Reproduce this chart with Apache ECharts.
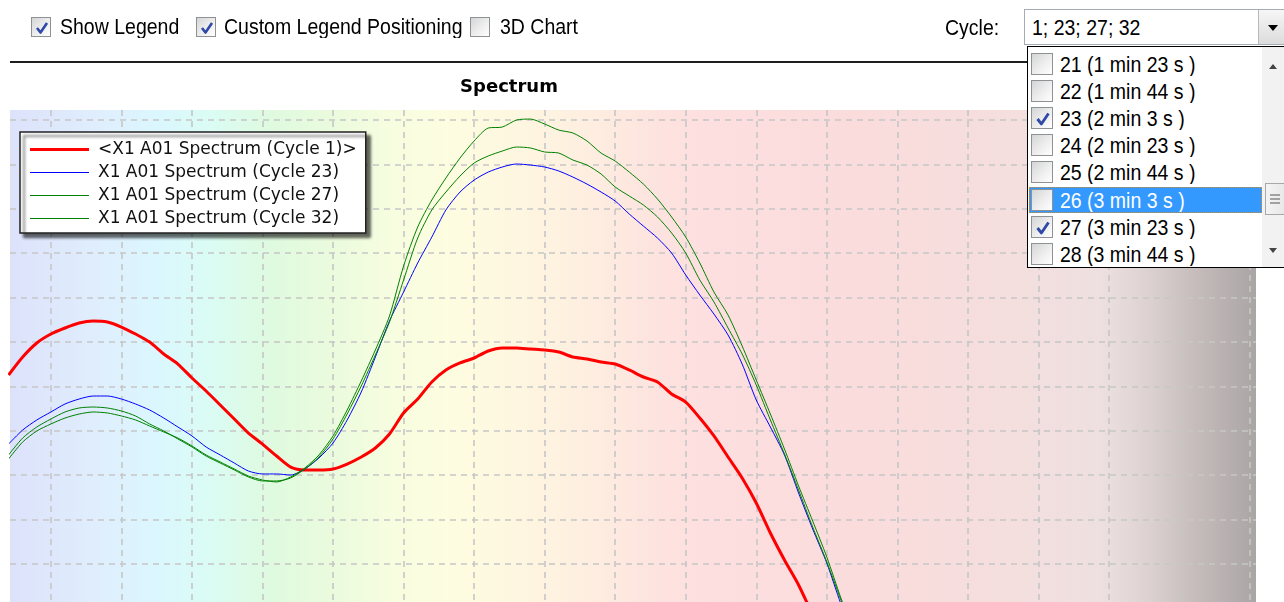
<!DOCTYPE html>
<html>
<head>
<meta charset="utf-8">
<script src="https://cdn.jsdelivr.net/npm/echarts@6/dist/echarts.min.js"></script>
<style>
  html, body { margin: 0; padding: 0; width: 1284px; height: 602px; overflow: hidden; background: #fff; }
  #chart { position: absolute; left: 0; top: 0; width: 1284px; height: 602px; }
  .ui { position: absolute; font-family: "Liberation Sans", Arial, sans-serif; font-size: 19.5px; line-height: 19px; color: #000;
        white-space: nowrap; z-index: 5; transform: scale(1, 1.1); transform-origin: 0 0; }
  .cb { position: absolute; width: 20px; height: 20px; box-sizing: border-box; border: 1px solid #8f9294;
        background: linear-gradient(135deg, #d4d5d6 0%, #eeeeee 55%, #ffffff 100%); z-index: 5; }
  .cb svg { position: absolute; left: 0; top: 0; }
  #rule { position: absolute; left: 10px; top: 61px; width: 1018px; height: 2px; background: #1e1e1e; z-index: 4; }
  #combo { position: absolute; left: 1024px; top: 9px; width: 280px; height: 36px; box-sizing: border-box;
           border: 1px solid #a5acb5; background: #fff; z-index: 5; }
  #comboBtn { position: absolute; left: 1258px; top: 10px; width: 40px; height: 34px; box-sizing: border-box;
              border-left: 1px solid #b9b9b9; background: linear-gradient(#f6f6f6, #dcdcdc); z-index: 6; }
  #list { position: absolute; left: 1027px; top: 46px; width: 280px; height: 222px; box-sizing: border-box;
          border: 1px solid #000; background: #fff; z-index: 7; }
  #scroll { position: absolute; left: 1262px; top: 47px; width: 30px; height: 220px; background: #f2f2f2; z-index: 8; }
  #thumb { position: absolute; left: 1265px; top: 183px; width: 30px; height: 32px; box-sizing: border-box;
           border: 1px solid #a8a8a8; background: linear-gradient(90deg, #f4f4f4, #e2e2e2); z-index: 9; }
  .row { position: absolute; left: 1029px; width: 233px; height: 26px; z-index: 8; }
  .row.sel { background: #3399ff; outline: 1px dotted #e08a1e; outline-offset: -1px; }
</style>
</head>
<body>
<div id="chart"></div>
<script>
// Wavelength grid (nm) shared by every spectrum
const wavelengths = [388, 392, 396, 400, 404, 408, 412, 416, 420, 424, 428, 432, 436, 440, 444, 448, 452, 456, 460, 464,
  468, 472, 476, 480, 484, 488, 492, 496, 500, 504, 508, 512, 516, 520, 524, 528, 532, 536, 540, 544,
  548, 552, 556, 560, 564, 568, 572, 576, 580, 584, 588, 592, 596, 600, 604, 608, 612, 616, 620, 624, 628];

// Signal per wavelength for each cycle
const cycle1 = [2628, 2831, 2989, 3090, 3158, 3214, 3237, 3225, 3169, 3090, 3000, 2865, 2752, 2595, 2448, 2291, 2133, 1975, 1851, 1716,
  1592, 1559, 1559, 1570, 1626, 1705, 1806, 1964, 2201, 2358, 2550, 2685, 2764, 2820, 2899, 2933, 2933, 2921, 2910, 2887,
  2831, 2809, 2775, 2752, 2685, 2606, 2550, 2415, 2324, 2144, 1942, 1705, 1469, 1187, 849, 545, 264, -74, -412, -750, -1090];
const cycle23 = [1851, 2009, 2122, 2212, 2302, 2358, 2392, 2392, 2358, 2302, 2234, 2144, 2043, 1942, 1818, 1728, 1637, 1547, 1514, 1514,
  1502, 1570, 1694, 1863, 2122, 2437, 2831, 3237, 3563, 3890, 4182, 4487, 4689, 4824, 4914, 4971, 5005, 4993, 4971, 4926,
  4858, 4779, 4689, 4588, 4441, 4306, 4171, 4002, 3755, 3529, 3315, 3079, 2752, 2347, 2043, 1728, 1300, 894, 511, 50, -356];
const cycle27 = [1728, 1919, 2043, 2133, 2212, 2257, 2268, 2257, 2223, 2167, 2077, 1998, 1908, 1818, 1716, 1637, 1559, 1480, 1435, 1435,
  1469, 1570, 1705, 1908, 2189, 2505, 2854, 3225, 3698, 4171, 4487, 4689, 4869, 5016, 5095, 5151, 5196, 5185, 5140, 5128,
  5050, 4993, 4892, 4746, 4644, 4543, 4408, 4228, 4002, 3698, 3451, 3158, 2865, 2516, 2122, 1739, 1333, 917, 523, 95, -322];
const cycle32 = [1683, 1874, 1998, 2077, 2144, 2189, 2212, 2201, 2167, 2122, 2054, 1987, 1919, 1829, 1728, 1649, 1570, 1491, 1446, 1424,
  1480, 1581, 1728, 1942, 2234, 2561, 2910, 3293, 3856, 4295, 4599, 4847, 5072, 5264, 5410, 5421, 5500, 5511, 5455, 5387,
  5354, 5264, 5128, 5038, 4914, 4779, 4610, 4408, 4182, 3890, 3563, 3304, 2955, 2572, 2189, 1795, 1379, 984, 579, 117, -299];

const seriesNames = [
  '<X1 A01 Spectrum (Cycle 1)>',
  'X1 A01 Spectrum (Cycle 23)',
  'X1 A01 Spectrum (Cycle 27)',
  'X1 A01 Spectrum (Cycle 32)'
];

// Toolbar and cycle picker
const toolbarOptions = [
  { label: 'Show Legend', checked: true },
  { label: 'Custom Legend Positioning', checked: true },
  { label: '3D Chart', checked: false }
];
const cycleLabel = 'Cycle:';
const cycleSelection = '1; 23; 27; 32';
const cycleOptions = ['21 (1 min 23 s )', '22 (1 min 44 s )', '23 (2 min 3 s )', '24 (2 min 23 s )',
  '25 (2 min 44 s )', '26 (3 min 3 s )', '27 (3 min 23 s )', '28 (3 min 44 s )'];
const checkedOptions = [2, 6];
const highlightedOption = 5;

// ---------- toolbar widgets ----------
const CHECK_SVG = '<svg width="20" height="20" viewBox="0 0 20 20"><polyline points="5,10 8.5,14.5 15,5" fill="none" stroke="#2f49a8" stroke-width="2.6" stroke-linejoin="round"/></svg>';

function addBox(x, y, size, checked) {
  const b = document.createElement('div');
  b.className = 'cb';
  b.style.left = x + 'px';
  b.style.top = y + 'px';
  b.style.width = size + 'px';
  b.style.height = size + 'px';
  if (checked) b.innerHTML = CHECK_SVG.replace(/width="20" height="20"/, 'width="' + size + '" height="' + size + '"');
  document.body.appendChild(b);
  return b;
}
function addText(txt, x, y, color, z) {
  const t = document.createElement('div');
  t.className = 'ui';
  t.textContent = txt;
  t.style.left = x + 'px';
  t.style.top = y + 'px';
  if (color) t.style.color = color;
  if (z) t.style.zIndex = z;
  document.body.appendChild(t);
  return t;
}
function addDiv(id) {
  const d = document.createElement('div');
  d.id = id;
  document.body.appendChild(d);
  return d;
}

const boxX = [31, 196, 470];
const textX = [60, 224, 500];
toolbarOptions.forEach((o, i) => {
  addBox(boxX[i], 17, 20, o.checked);
  addText(o.label, textX[i], 16);
});
addText(cycleLabel, 945, 17);
addDiv('rule');
addDiv('combo');
addText(cycleSelection, 1032, 17);
const btn = addDiv('comboBtn');
btn.innerHTML = '<svg width="26" height="34"><polygon points="9,15 19,15 14,21" fill="#000"/></svg>';

addDiv('list');
cycleOptions.forEach((label, i) => {
  const top = 52 + Math.round(i * 27.1);
  const r = document.createElement('div');
  r.className = 'row' + (i === highlightedOption ? ' sel' : '');
  r.style.top = (top - 1) + 'px';
  document.body.appendChild(r);
  const b = addBox(1031, top + 1, 22, checkedOptions.includes(i));
  b.style.zIndex = 9;
  addText(label, 1060, top + 2, i === highlightedOption ? '#fff' : '#000', 9);
});
addDiv('scroll');
const th = addDiv('thumb');
th.innerHTML = '<svg width="20" height="30"><g stroke="#6f6f6f" stroke-width="1.2"><line x1="4" y1="11" x2="14" y2="11"/><line x1="4" y1="15" x2="14" y2="15"/><line x1="4" y1="19" x2="14" y2="19"/></g></svg>';
const arrows = document.createElement('div');
arrows.style.cssText = 'position:absolute;left:1262px;top:47px;width:22px;height:220px;z-index:10;';
arrows.innerHTML = '<svg width="22" height="220"><polygon points="7,22 15,22 11,17" fill="#444"/><polygon points="7,201 15,201 11,206" fill="#444"/></svg>';
document.body.appendChild(arrows);

// ---------- chart ----------
const chart = echarts.init(document.getElementById('chart'), null, { renderer: 'canvas' });
const toPairs = vals => vals.map((v, i) => [wavelengths[i], v]);
const lineColors = ['#ff0000', '#0000ff', '#008000', '#008000'];
const lineWidths = [3, 1, 1, 1];
const spectra = [cycle1, cycle23, cycle27, cycle32];

const gridDash = { color: '#c6c6c6', width: 1.6, type: [6, 5] };

chart.setOption({
  animation: false,
  title: {
    text: 'Spectrum',
    left: 504,
    top: 73,
    textAlign: 'center',
    textStyle: { fontFamily: 'DejaVu Sans', fontWeight: 'bold', fontSize: 18, color: '#000' }
  },
  legend: {
    orient: 'vertical',
    left: 20,
    top: 132,
    padding: [9, 9, 6, 10],
    itemGap: 6,
    itemWidth: 59,
    itemHeight: 14,
    symbolKeepAspect: true,
    backgroundColor: '#fff',
    borderColor: '#222',
    borderWidth: 1.5,
    shadowColor: 'rgba(0,0,0,0.6)',
    shadowBlur: 3,
    shadowOffsetX: 4,
    shadowOffsetY: 4,
    textStyle: { fontFamily: 'DejaVu Sans', fontSize: 17, color: '#111', padding: [0, 0, 0, 4] },
    // each key is a flat bar as thick as its series line
    data: seriesNames.map((name, i) => ({
      name: name,
      icon: 'path://M0,0h59v' + lineWidths[i] + 'h-59z',
      itemStyle: { color: lineColors[i], borderWidth: 0 }
    }))
  },
  grid: {
    left: 10, right: 28, top: 110, bottom: 0,
    show: true,
    borderWidth: 0,
    backgroundColor: {
      type: 'linear', x: 0, y: 0, x2: 1, y2: 0,
      colorStops: [
        { offset: 0.00, color: '#dde2fb' },
        { offset: 0.07, color: '#dfeefd' },
        { offset: 0.12, color: '#dbf7fe' },
        { offset: 0.16, color: '#dafcf4' },
        { offset: 0.21, color: '#dffadf' },
        { offset: 0.26, color: '#ebfbdd' },
        { offset: 0.31, color: '#f8fde0' },
        { offset: 0.35, color: '#fdfde0' },
        { offset: 0.41, color: '#fef6e0' },
        { offset: 0.47, color: '#feede0' },
        { offset: 0.52, color: '#fde3df' },
        { offset: 0.56, color: '#fddfdf' },
        { offset: 0.68, color: '#fbdcdc' },
        { offset: 0.80, color: '#f5dede' },
        { offset: 0.875, color: '#eee0e0' },
        { offset: 0.915, color: '#dcd1d1' },
        { offset: 0.955, color: '#c4baba' },
        { offset: 1.00, color: '#aaa5a5' }
      ]
    }
  },
  xAxis: {
    type: 'value',
    min: 388.4,
    max: 741.7,
    minInterval: 20,
    maxInterval: 20,
    splitNumber: 18,
    axisLine: { show: false },
    axisTick: { show: false },
    axisLabel: { show: false },
    splitLine: { show: true, showMinLine: false, showMaxLine: false, lineStyle: gridDash }
  },
  yAxis: {
    type: 'value',
    min: 72,
    max: 5613,
    minInterval: 500,
    maxInterval: 500,
    splitNumber: 11,
    axisLine: { show: false },
    axisTick: { show: false },
    axisLabel: { show: false },
    splitLine: { show: true, showMinLine: false, showMaxLine: false, lineStyle: gridDash }
  },
  series: spectra.map((vals, i) => ({
    name: seriesNames[i],
    type: 'line',
    data: toPairs(vals),
    symbol: 'none',
    smooth: 0.25,
    clip: true,
    color: lineColors[i],
    lineStyle: { color: lineColors[i], width: lineWidths[i] }
  }))
});
</script>
</body>
</html>
